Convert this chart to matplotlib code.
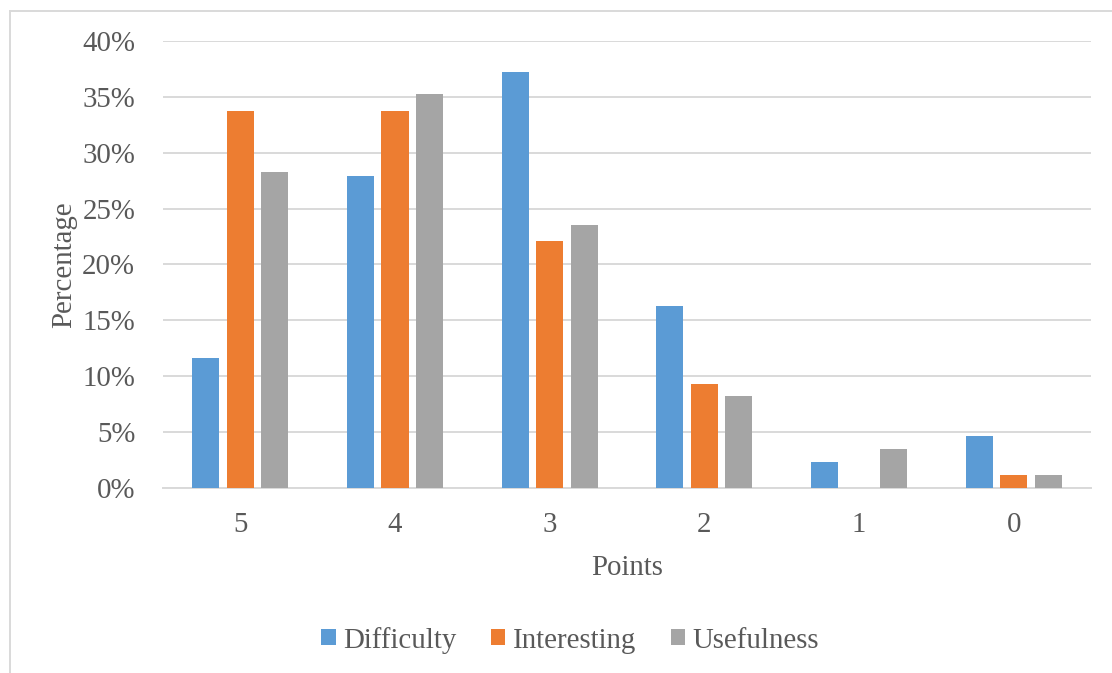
import numpy as np
import matplotlib.pyplot as plt
from matplotlib.lines import Line2D

# Share of answers (%) per point score
points = ["5", "4", "3", "2", "1", "0"]
difficulty = [11.63, 27.91, 37.21, 16.28, 2.33, 4.65]
interesting = [33.72, 33.72, 22.09, 9.30, 0.0, 1.16]
usefulness = [28.24, 35.29, 23.53, 8.24, 3.53, 1.18]

series = [("Difficulty", difficulty, "#5B9BD5"),
          ("Interesting", interesting, "#ED7D31"),
          ("Usefulness", usefulness, "#A5A5A5")]

plt.rcParams['font.family'] = ['Liberation Serif', 'DejaVu Serif']
text_color = "#595959"
grid_color = "#D9D9D9"
fs = 20.8

fig = plt.figure(figsize=(11.12, 6.73), dpi=100)
ax = fig.add_axes([0.1466, 0.2749, 0.8345, 0.6642])

x = np.arange(len(points))
width = 0.175
step = 0.223

for i, (name, values, color) in enumerate(series):
    ax.bar(x + (i - 1) * step, values, width, color=color, label=name, zorder=3)

ax.set_xlim(-0.5, len(points) - 0.5)
ax.set_ylim(0, 40)
ax.set_yticks(np.arange(0, 41, 5))
ax.set_yticklabels([f"{v}%" for v in range(0, 41, 5)])
ax.set_xticks(x)
ax.set_xticklabels(points)

ax.grid(axis="y", color=grid_color, linewidth=1.4, zorder=0)
for side in ["top", "right", "left"]:
    ax.spines[side].set_visible(False)
ax.spines["bottom"].set_color(grid_color)
ax.spines["bottom"].set_linewidth(1.4)

ax.tick_params(axis="y", length=0, pad=20, labelsize=fs, labelcolor=text_color)
ax.tick_params(axis="x", length=0, pad=17, labelsize=fs, labelcolor=text_color)

ax.set_xlabel("Points", fontsize=fs, color=text_color, labelpad=12.5)
ax.set_ylabel("Percentage", fontsize=fs, color=text_color)
ax.yaxis.set_label_coords(-0.092, 0.5)

leg = fig.legend(loc="center", bbox_to_anchor=(0.5126, 0.049), ncol=3,
                 frameon=False, fontsize=fs, handlelength=0.5, handleheight=0.5,
                 handletextpad=0.25, columnspacing=1.2)
for t in leg.get_texts():
    t.set_color(text_color)

# chart frame
fig.add_artist(Line2D([9.5 / 1112, 9.5 / 1112], [0, 1 - 10.5 / 673],
                      color=grid_color, linewidth=1.4, transform=fig.transFigure))
fig.add_artist(Line2D([9.5 / 1112, 1], [1 - 10.5 / 673, 1 - 10.5 / 673],
                      color=grid_color, linewidth=1.4, transform=fig.transFigure))

fig.savefig("out.png", dpi=100)
